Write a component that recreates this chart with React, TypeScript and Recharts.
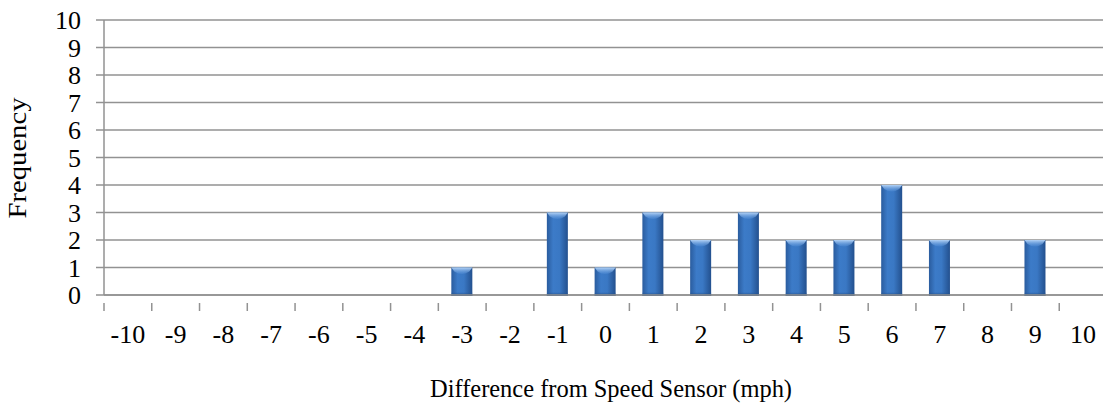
import React from 'react'
import { BarChart, Bar, XAxis, YAxis, CartesianGrid, Label } from 'recharts'

const categories = ['-10', '-9', '-8', '-7', '-6', '-5', '-4', '-3', '-2', '-1', '0', '1', '2', '3', '4', '5', '6', '7', '8', '9', '10']
const frequency = [0, 0, 0, 0, 0, 0, 0, 1, 0, 3, 1, 3, 2, 3, 2, 2, 4, 2, 0, 2, 0]
const yTicks = [0, 1, 2, 3, 4, 5, 6, 7, 8, 9, 10]

const FONT = '"Liberation Serif", "Times New Roman", serif'
const GRID = '#929292'

const XTick = (props: any) => {
  const { x, y, payload } = props
  const band = 47.75
  const left = x - band / 2
  return (
    <g>
      <line x1={left} y1={y} x2={left} y2={y + 8} stroke={GRID} strokeWidth={1.5} />
      <text x={x} y={343} textAnchor="middle" fontFamily={FONT} fontSize={26} fill="#000">
        {payload.value}
      </text>
    </g>
  )
}

const YTick = (props: any) => {
  const { y, payload } = props
  return (
    <g>
      <line x1={96} y1={y} x2={104} y2={y} stroke={GRID} strokeWidth={1.5} />
      <text x={81} y={y + 9} textAnchor="end" fontFamily={FONT} fontSize={26} fill="#000">
        {payload.value}
      </text>
    </g>
  )
}

const BarShape = (props: any) => {
  const { x, y, width, height } = props
  if (!height || height <= 0) return null
  const w = width
  return (
    <g>
      <rect x={x} y={y} width={w} height={height + 1} fill="url(#barBody)" />
      <path
        d={`M${x},${y} L${x + w},${y} L${x + w - 3},${y + 4} Q${x + w / 2},${y + 9} ${x + 3},${y + 4} Z`}
        fill="url(#barCap)"
      />
      <rect x={x} y={y + height - 3} width={w} height={4} fill="url(#barFoot)" />
    </g>
  )
}

export default function App() {
  const data = categories.map((c, i) => ({ name: c, value: frequency[i] }))

  return (
    <div style={{ position: 'absolute', left: 0, top: 0, width: 1103, height: 406, overflow: 'hidden', background: '#fff' }}>
      <BarChart width={1110} height={406} data={data} margin={{ top: 20, right: 3, left: 0, bottom: 0 }}>
        <defs>
          <linearGradient id="barBody" x1="0" y1="0" x2="1" y2="0">
            <stop offset="0%" stopColor="#2a5c9e" />
            <stop offset="30%" stopColor="#3c7bc8" />
            <stop offset="60%" stopColor="#3a78c4" />
            <stop offset="100%" stopColor="#23508e" />
          </linearGradient>
          <linearGradient id="barCap" x1="0" y1="0" x2="0" y2="1">
            <stop offset="0%" stopColor="#b4d3f6" />
            <stop offset="100%" stopColor="#5b95dc" stopOpacity={0.3} />
          </linearGradient>
          <linearGradient id="barFoot" x1="0" y1="0" x2="0" y2="1">
            <stop offset="0%" stopColor="#2a5c9e" stopOpacity={0} />
            <stop offset="100%" stopColor="#1b406f" />
          </linearGradient>
        </defs>
        <CartesianGrid vertical={false} stroke={GRID} strokeWidth={1.5} />
        <XAxis
          dataKey="name"
          height={111}
          axisLine={{ stroke: GRID, strokeWidth: 1.5 }}
          tickLine={false}
          interval={0}
          tick={<XTick />}
        >
          <Label
            content={() => (
              <text x={611} y={397} textAnchor="middle" fontFamily={FONT} fontSize={26} fill="#000" textLength={362} lengthAdjust="spacingAndGlyphs">
                Difference from Speed Sensor (mph)
              </text>
            )}
          />
        </XAxis>
        <YAxis
          width={104}
          domain={[0, 10]}
          ticks={yTicks}
          interval={0}
          axisLine={{ stroke: GRID, strokeWidth: 1.5 }}
          tickLine={false}
          tick={<YTick />}
        >
          <Label
            content={() => (
              <text x={0} y={0} transform="translate(26,158) rotate(-90)" textAnchor="middle" fontFamily={FONT} fontSize={26} fill="#000" textLength={121} lengthAdjust="spacingAndGlyphs">
                Frequency
              </text>
            )}
          />
        </YAxis>
        <Bar dataKey="value" barSize={21} shape={<BarShape />} isAnimationActive={false} />
      </BarChart>
    </div>
  )
}
